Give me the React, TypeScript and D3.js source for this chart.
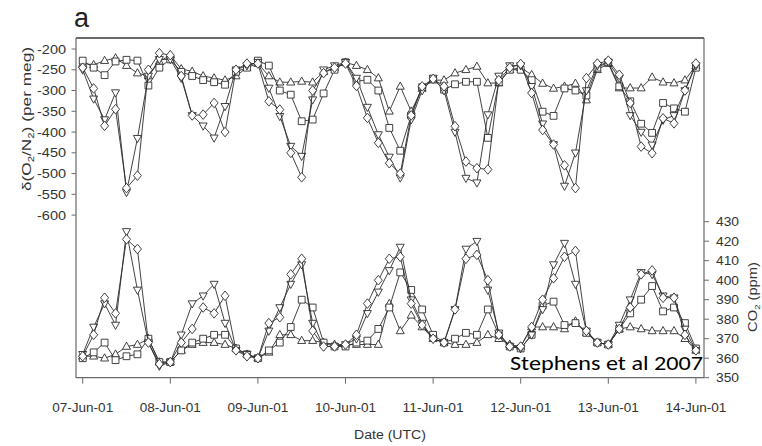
import React from "react";
import * as d3 from "d3";

// sample times: hours after 07-Jun-01 00:00 UTC, every 3 h
const HOURS = d3.range(0, 169, 3);
const DATE_LABELS = ["07-Jun-01", "08-Jun-01", "09-Jun-01", "10-Jun-01", "11-Jun-01", "12-Jun-01", "13-Jun-01", "14-Jun-01"];
const O2_TICKS = [-200, -250, -300, -350, -400, -450, -500, -550, -600];
const CO2_TICKS = [350, 360, 370, 380, 390, 400, 410, 420, 430];

// δ(O2/N2) per meg
const o2Diamond = [
  -245, -295, -385, -345, -535, -505, -250, -210, -215,
  -265, -360, -358, -330, -400, -250, -235, -235,
  -326, -346, -450, -509, -300, -258, -245, -235,
  -289, -366, -426, -475, -500, -360, -290, -272,
  -290, -386, -471, -487, -490, -275, -245, -236,
  -306, -395, -430, -480, -535, -270, -235, -228,
  -262, -330, -435, -451, -367, -379, -300, -235,
];
const o2InvTri = [
  -250, -320, -370, -305, -545, -415, -265, -225, -225,
  -270, -360, -385, -414, -338, -250, -240, -232,
  -294, -362, -434, -458, -322, -250, -240, -232,
  -270, -340, -406, -460, -510, -370, -300, -270,
  -300, -400, -511, -522, -358, -265, -240, -240,
  -290, -380, -430, -530, -450, -300, -240, -232,
  -270, -360, -400, -431, -371, -360, -300, -240,
];
const o2Square = [
  -228, -245, -263, -230, -226, -228, -288, -245, -225,
  -255, -265, -275, -280, -286, -255, -245, -228,
  -240, -300, -310, -374, -370, -307, -250, -232,
  -278, -274, -300, -390, -445, -360, -292, -272,
  -298, -285, -279, -279, -414, -280, -250, -250,
  -275, -351, -361, -295, -300, -312, -245, -232,
  -290, -326, -380, -402, -330, -343, -351, -245,
];
const o2Tri = [
  -235, -238, -228, -222, -240, -258, -265, -230, -215,
  -248, -254, -265, -270, -275, -265, -245, -235,
  -265, -280, -280, -278, -280, -255, -245, -232,
  -240, -250, -270, -350, -290, -350, -295, -275,
  -275, -258, -250, -242, -282, -282, -250, -245,
  -262, -283, -295, -290, -283, -323, -250, -235,
  -294, -294, -294, -268, -280, -282, -275, -240,
];

// CO2 ppm
const co2Diamond = [
  361, 372, 391, 383, 421, 416, 368, 357, 358,
  368, 375, 386, 383, 392, 364, 361, 360,
  378, 381, 403, 411, 374, 366, 366, 367,
  372, 388, 400, 411, 412, 388, 377, 370,
  368, 385, 411, 413, 400, 372, 366, 366,
  376, 390, 401, 412, 415, 374, 368, 367,
  375, 386, 403, 405, 391, 391, 372, 364,
];
const co2InvTri = [
  362, 376, 388, 377, 425, 395, 368, 356, 358,
  372, 388, 392, 398, 378, 364, 362, 360,
  374, 386, 398, 408, 378, 366, 366, 367,
  370, 383, 394, 405, 417, 390, 378, 370,
  368, 385, 416, 420, 395, 373, 366, 365,
  372, 385, 408, 419, 398, 374, 368, 367,
  377, 390, 404, 403, 392, 391, 375, 364,
];
const co2Square = [
  360, 363, 368, 359, 361, 362, 370, 358, 358,
  364, 368, 370, 372, 372, 365, 362, 360,
  364, 368, 376, 390, 386, 368, 366, 366,
  368, 369, 375, 386, 404, 395, 385, 372,
  368, 370, 373, 372, 385, 372, 366, 365,
  372, 387, 389, 377, 378, 373, 368, 367,
  375, 383, 390, 397, 384, 386, 378, 365,
];
const co2Tri = [
  361, 361, 360, 362, 366, 367, 370, 358, 358,
  364, 367, 368, 368, 367, 365, 362, 360,
  363, 372, 372, 369, 369, 368, 367, 367,
  367, 367, 367, 388, 374, 382, 376, 370,
  368, 367, 367, 368, 372, 370, 367, 366,
  376, 376, 376, 375, 379, 373, 368, 367,
  375, 376, 375, 374, 374, 374, 370, 364,
];

const MARKERS: Record<string, string> = {
  diamond: "M0,-4.8L4,0L0,4.8L-4,0Z",
  square: "M-3.4,-3.4h6.8v6.8h-6.8Z",
  tri: "M0,-4.4L4,2.8L-4,2.8Z",
  invtri: "M0,4.4L4,-2.8L-4,-2.8Z",
};

const INK = "#2e2e2e";
const FONT = "'Liberation Sans', Arial, sans-serif";

function Series({ values, marker, x, y }: { values: number[]; marker: string; x: any; y: any }) {
  const line = d3
    .line<number>()
    .x((_, i) => x(HOURS[i]))
    .y((v) => y(v));
  return (
    <g>
      <path d={line(values) || ""} fill="none" stroke={INK} strokeWidth={0.9} />
      {values.map((v, i) => (
        <path
          key={i}
          d={MARKERS[marker]}
          transform={`translate(${x(HOURS[i])},${y(v)})`}
          fill="#fff"
          stroke={INK}
          strokeWidth={0.9}
        />
      ))}
    </g>
  );
}

export default function App() {
  const W = 762;
  const H = 446;
  const left = 76;
  const right = 704;
  const top = 38;
  const bottom = 377.7;

  const x = d3.scaleLinear().domain([0, 168]).range([82.7, 695.9]);
  const yTop = d3.scaleLinear().domain([-200, -600]).range([49, 215.1]);
  const yBot = d3.scaleLinear().domain([350, 430]).range([377.7, 221.7]);

  const topSeries = [
    { v: o2Tri, m: "tri" },
    { v: o2Square, m: "square" },
    { v: o2InvTri, m: "invtri" },
    { v: o2Diamond, m: "diamond" },
  ];
  const botSeries = [
    { v: co2Tri, m: "tri" },
    { v: co2Square, m: "square" },
    { v: co2InvTri, m: "invtri" },
    { v: co2Diamond, m: "diamond" },
  ];

  return (
    <svg
      width={W}
      height={H}
      viewBox={`0 0 ${W} ${H}`}
      style={{ position: "absolute", left: 0, top: 0, background: "#fff" }}
      fontFamily={FONT}
    >
      <rect x={0} y={0} width={W} height={H} fill="#fff" />
      {/* panel label */}
      <text x={74} y={27} fontSize={27} fill="#222">a</text>

      {/* frame */}
      <line x1={left} x2={right} y1={top} y2={top} stroke="#6a6a6a" strokeWidth={2} />
      <line x1={left} x2={left} y1={top} y2={bottom} stroke="#6a6a6a" strokeWidth={1.2} />
      <line x1={right} x2={right} y1={top} y2={bottom} stroke="#6a6a6a" strokeWidth={1.2} />
      <line x1={left} x2={right} y1={bottom} y2={bottom} stroke="#6a6a6a" strokeWidth={1.2} />

      {/* left axis */}
      {O2_TICKS.map((t) => (
        <g key={t}>
          <line x1={left - 4.5} x2={left} y1={yTop(t)} y2={yTop(t)} stroke="#6a6a6a" strokeWidth={1} />
          <text x={66} y={yTop(t) + 4.5} fontSize={13} textAnchor="end" fill="#333" textLength={29} lengthAdjust="spacingAndGlyphs">
            {t}
          </text>
        </g>
      ))}
      <text
        transform="translate(31,119) rotate(-90) scale(1.33,1)"
        textAnchor="middle"
        fontSize={13}
        fill="#333"
      >
        δ(O<tspan dy={3} fontSize={8.5}>2</tspan>
        <tspan dy={-3}>/N</tspan>
        <tspan dy={3} fontSize={8.5}>2</tspan>
        <tspan dy={-3}>) (per meg)</tspan>
      </text>

      {/* right axis */}
      {CO2_TICKS.map((t) => (
        <g key={t}>
          <line x1={right} x2={right + 5} y1={yBot(t)} y2={yBot(t)} stroke="#6a6a6a" strokeWidth={1} />
          <text x={716} y={yBot(t) + 4.5} fontSize={12.5} fill="#333" textLength={23} lengthAdjust="spacingAndGlyphs">
            {t}
          </text>
        </g>
      ))}
      <text transform="translate(757,297) rotate(-90) scale(1.18,1)" textAnchor="middle" fontSize={12.5} fill="#333">
        CO<tspan dy={3} fontSize={8}>2</tspan>
        <tspan dy={-3}> (ppm)</tspan>
      </text>

      {/* x axis */}
      {DATE_LABELS.map((lab, i) => (
        <g key={lab}>
          <line x1={x(i * 24)} x2={x(i * 24)} y1={bottom} y2={bottom + 6} stroke="#6a6a6a" strokeWidth={1} />
          <text x={x(i * 24)} y={412} fontSize={12.5} textAnchor="middle" fill="#333" textLength={61} lengthAdjust="spacingAndGlyphs">
            {lab}
          </text>
        </g>
      ))}
      <text x={390} y={439} fontSize={12.5} textAnchor="middle" fill="#333" textLength={72} lengthAdjust="spacingAndGlyphs">
        Date (UTC)
      </text>

      {/* data */}
      {topSeries.map((s, i) => (
        <Series key={"t" + i} values={s.v} marker={s.m} x={x} y={yTop} />
      ))}
      {botSeries.map((s, i) => (
        <Series key={"b" + i} values={s.v} marker={s.m} x={x} y={yBot} />
      ))}

      {/* citation */}
      <text x={703} y={370} fontSize={19.5} textAnchor="end" fill="#000" fontFamily="Carlito, Lato, 'Open Sans', sans-serif" textLength={193} lengthAdjust="spacingAndGlyphs">
        Stephens et al 2007
      </text>
    </svg>
  );
}
